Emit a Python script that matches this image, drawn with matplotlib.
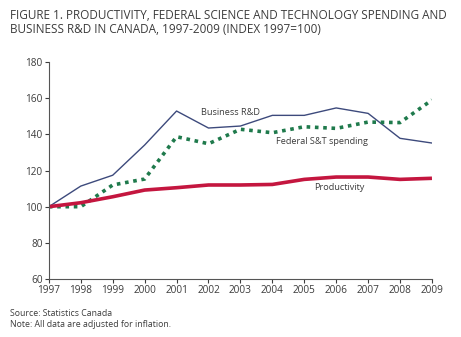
import matplotlib
matplotlib.use("Agg")
import matplotlib.pyplot as plt

years = list(range(1997, 2010))
business_rd = [100, 111.4, 117.4, 134.1, 152.9, 143.5, 144.6, 150.5, 150.5, 154.6, 151.6, 137.8, 135.2]
federal_st = [100, 100, 112, 115.3, 138.7, 134.8, 142.8, 140.9, 144.2, 143.3, 146.8, 146.5, 159]
productivity = [100, 102.2, 105.5, 109.2, 110.5, 112, 112, 112.3, 115.1, 116.4, 116.4, 115.1, 115.7]

plt.rcParams['font.family'] = ['Open Sans', 'DejaVu Sans']
text_col = '#3c3c3c'

fig = plt.figure(figsize=(4.61, 3.37), dpi=100)
ax = fig.add_axes([0.106, 0.172, 0.831, 0.644])

ax.plot(years, business_rd, color='#3d4a7c', lw=1.0)
ax.plot(years, federal_st, color='#1f7a4c', lw=2.6, linestyle=(0, (1, 1.3)))
ax.plot(years, productivity, color='#c4163f', lw=2.6, solid_capstyle='butt')

ax.text(2001.75, 152, 'Business R&D', fontsize=6.6, color=text_col, va='center')
ax.text(2004.1, 136, 'Federal S&T spending', fontsize=6.6, color=text_col, va='center')
ax.text(2005.3, 110.5, 'Productivity', fontsize=6.6, color=text_col, va='center')

ax.set_xlim(1997, 2009)
ax.set_ylim(60, 180)
ax.set_xticks(years)
ax.set_yticks(range(60, 181, 20))
ax.tick_params(labelsize=7.2, colors=text_col, length=3, width=0.8, pad=1.5)
for side in ['top', 'right']:
    ax.spines[side].set_visible(False)
for side in ['left', 'bottom']:
    ax.spines[side].set_color('#555555')
    ax.spines[side].set_linewidth(0.8)

fig.text(0.022, 0.972, 'FIGURE 1. PRODUCTIVITY, FEDERAL SCIENCE AND TECHNOLOGY SPENDING AND\n'
         'BUSINESS R&D IN CANADA, 1997-2009 (INDEX 1997=100)',
         fontsize=8.5, color=text_col, va='top', linespacing=1.05)
fig.text(0.022, 0.082, 'Source: Statistics Canada\nNote: All data are adjusted for inflation.',
         fontsize=6.3, color=text_col, va='top', linespacing=1.2)

fig.savefig('out.png', dpi=100)
